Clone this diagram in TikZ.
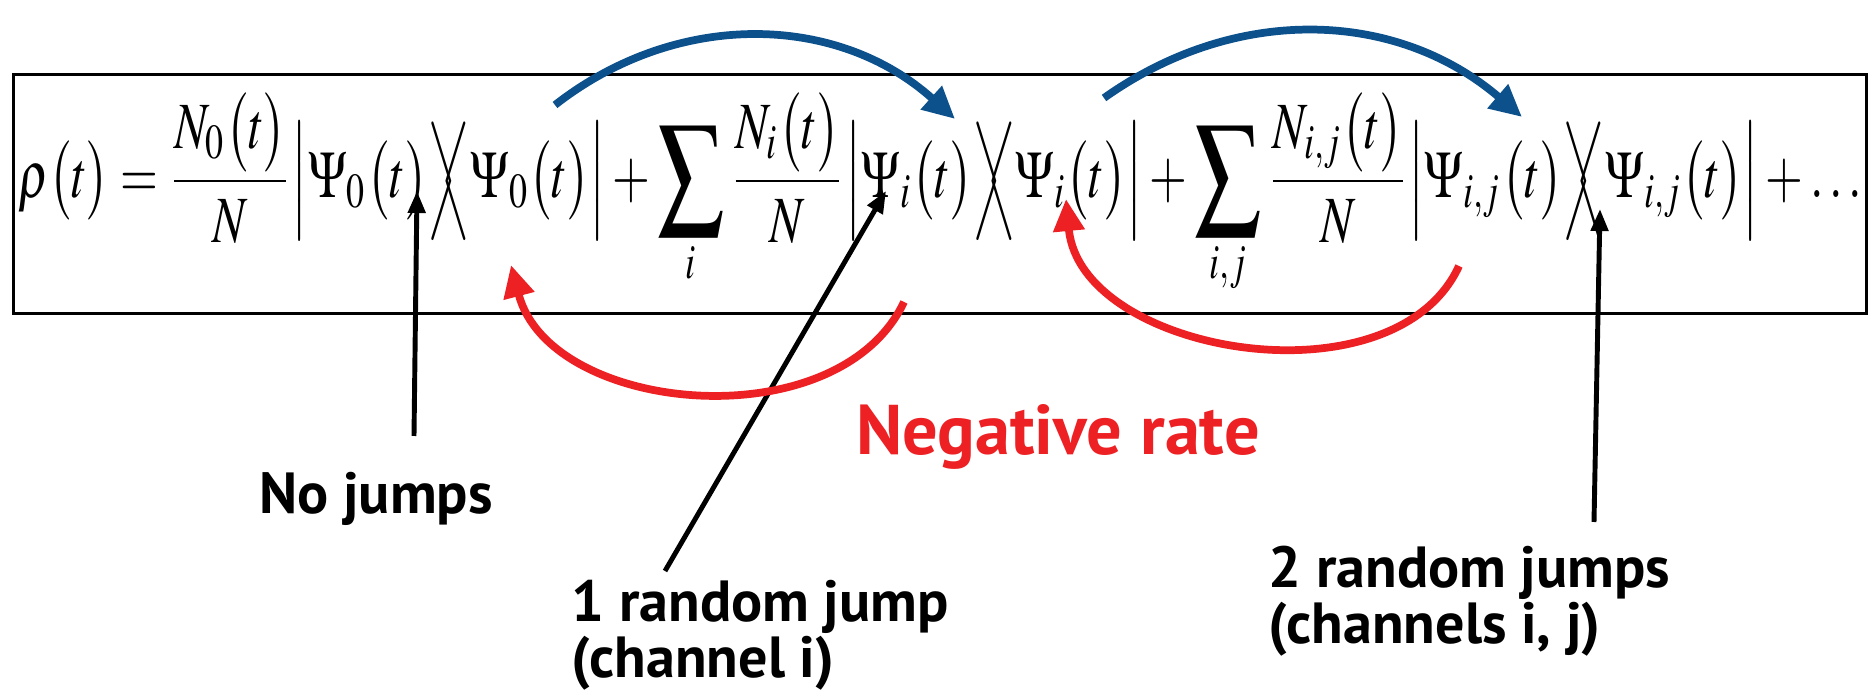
\documentclass[tikz,border=0pt]{standalone}
\usepackage{amsmath}
\usepackage{mathptmx}
\usepackage[no-math]{fontspec}
\setsansfont{PT Sans}
\usepackage{graphicx}
\usetikzlibrary{arrows,arrows.meta}

\definecolor{jumpblue}{RGB}{12,80,140}
\definecolor{jumpred}{RGB}{237,32,36}

\newcommand{\Bsum}{\mathop{\vcenter{\hbox{\scalebox{1.35}{$\displaystyle\sum$}}}}\limits}
\newcommand{\kb}{\Bigr\rangle\mkern-6mu\Bigl\langle}

\begin{document}
\begin{tikzpicture}[x=0.01cm,y=0.01cm,
eqbox/.style={draw,line width=0.8pt,inner xsep=0.05cm,inner ysep=0.18cm},
jumptext/.style={font=\sffamily\bfseries\fontsize{16.5}{16}\selectfont,align=left,inner sep=0pt},
ratetext/.style={font=\sffamily\bfseries\fontsize{20}{22}\selectfont,text=jumpred,inner sep=0pt},
pointer/.style={-{Triangle[length=0.22cm,width=0.17cm]},line width=1.4pt},
gain/.style={draw=jumpblue,-{Triangle[length=0.32cm,width=0.3cm]},line width=2.2pt},
loss/.style={draw=jumpred,-{Triangle[length=0.32cm,width=0.3cm]},line width=2.2pt} ]

\useasboundingbox (0,0) rectangle (1872,-692);

\node[eqbox](eq) at (940,-194) {\resizebox*{18.42cm}{2.03cm}{$\displaystyle
\rho\bigl(t\bigr)=\frac{N_0\bigl(t\bigr)}{N}\Bigl|\Psi_0\bigl(t\bigr)\kb\Psi_0\bigl(t\bigr)\Bigr|
+\Bsum_i\frac{N_i\bigl(t\bigr)}{N}\Bigl|\Psi_i\bigl(t\bigr)\kb\Psi_i\bigl(t\bigr)\Bigr|
+\Bsum_{i,j}\frac{N_{i,j}\bigl(t\bigr)}{N}\Bigl|\Psi_{i,j}\bigl(t\bigr)\kb\Psi_{i,j}\bigl(t\bigr)\Bigr|+\ldots$}};

\node[jumptext](nojump) at (376,-499) {No jumps};

\node[jumptext,anchor=west](onejump) at (571,-635) {1 random jump\\(channel i)};

\node[jumptext,anchor=west](twojump) at (1268,-601) {2 random jumps\\(channels i, j)};

\node[ratetext](negrate) at (1058,-437) {Negative rate};

\coordinate (ketzero) at (417,-191);
\coordinate (keti) at (886,-191);
\coordinate (ketij) at (1600,-209);

\coordinate (nojumptail) at (414,-436);
\coordinate (onejumptail) at (665,-571);
\coordinate (twojumptail) at (1594,-522);

\coordinate (upzero) at (555,-105);
\coordinate (downi) at (955,-119);
\coordinate (upi) at (1104,-98);
\coordinate (downij) at (1522,-117);

\coordinate (backi) at (904,-302);
\coordinate (tozero) at (511,-265);
\coordinate (backij) at (1459,-266);
\coordinate (toi) at (1066,-199);

\draw[pointer] (nojumptail) -- (ketzero);

\draw[pointer] (onejumptail) -- (keti);

\draw[pointer] (twojumptail) -- (ketij);

\draw[gain] (upzero) to[bend left=40] (downi);

\draw[gain] (upi) to[bend left=38] (downij);

\draw[loss] (backi) to[bend left=70] (tozero);

\draw[loss] (backij) to[bend left=75] (toi);

\end{tikzpicture}
\end{document}
